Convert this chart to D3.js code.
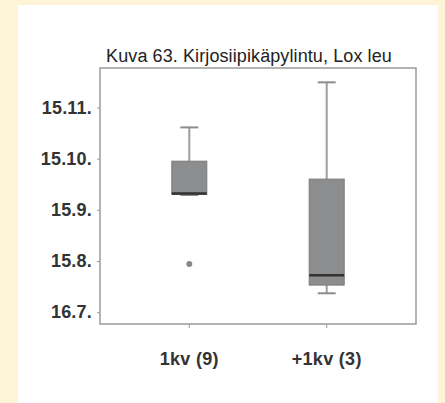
<!DOCTYPE html>
<html>
<head>
<meta charset="utf-8">
<script src="https://cdn.jsdelivr.net/npm/d3@7"></script>
<style>
  body { margin: 0; background: #fdf3d6; }
  svg { display: block; }
</style>
</head>
<body>
<div class="container"></div>
<script>
// tick labels as printed, bottom to top
const tickLabels = ['16.7.', '15.8.', '15.9.', '15.10.', '15.11.']
const tickPos = [0, 1, 2, 3, 4]

const groups = ['1kv (9)', '+1kv (3)']
const lowWhisker = [2.29, 0.37]
const q1 = [2.30, 0.53]
const median = [2.32, 0.72]
const q3 = [2.95, 2.60]
const highWhisker = [3.61, 4.49]
const outliers = [[0.94], []]

const W = 445, H = 403
const frame = { left: 100, right: 416, top: 68, bottom: 324 }

const svg = d3.select('.container').append('svg')
  .attr('width', W)
  .attr('height', H)

svg.append('rect')
  .attr('x', 18).attr('y', 5)
  .attr('width', 420).attr('height', H - 5)
  .attr('fill', '#fff')

const y = d3.scaleLinear()
  .domain([-0.23, 4.77])
  .range([frame.bottom, frame.top])

const x = d3.scaleBand()
  .domain(groups)
  .range([frame.left, frame.right])
  .paddingInner(0.1)
  .paddingOuter(0.2)

svg.append('text')
  .attr('x', 249).attr('y', 62)
  .attr('text-anchor', 'middle')
  .style('font-family', 'Liberation Sans, Arial, sans-serif')
  .style('font-size', '18px')
  .style('letter-spacing', '0.1px')
  .attr('fill', '#222')
  .text('Kuva 63. Kirjosiipikäpylintu, Lox leu')

// frame
svg.append('rect')
  .attr('x', frame.left).attr('y', frame.top)
  .attr('width', frame.right - frame.left)
  .attr('height', frame.bottom - frame.top)
  .attr('fill', 'none')
  .attr('stroke', '#9a9a9a')
  .attr('stroke-width', 1.5)

const labelFont = sel => sel
  .style('font-family', 'Liberation Sans, Arial, sans-serif')
  .style('font-size', '18px')
  .style('font-weight', 'bold')
  .style('letter-spacing', '0.2px')
  .attr('fill', '#333')

// y axis
const yAxis = svg.append('g')
  .attr('transform', `translate(${frame.left},0)`)
  .call(d3.axisLeft(y).tickValues(tickPos).tickFormat((d, i) => tickLabels[i]).tickSize(3).tickPadding(5))
yAxis.select('.domain').remove()
yAxis.selectAll('line').attr('stroke', '#999')
yAxis.selectAll('text').call(labelFont)

// x axis
const xAxis = svg.append('g')
  .attr('transform', `translate(0,${frame.bottom})`)
  .call(d3.axisBottom(x).tickSize(4).tickPadding(24))
xAxis.select('.domain').remove()
xAxis.selectAll('line').attr('stroke', '#999')
xAxis.selectAll('text').call(labelFont).style('letter-spacing', '0.3px')

const boxW = 35
const capW = 18

groups.forEach((g, i) => {
  const cx = x(g) + x.bandwidth() / 2
  const gg = svg.append('g')

  // whiskers
  gg.append('line')
    .attr('x1', cx).attr('x2', cx)
    .attr('y1', y(highWhisker[i])).attr('y2', y(q3[i]))
    .attr('stroke', '#9d9d9d').attr('stroke-width', 2)
  gg.append('line')
    .attr('x1', cx).attr('x2', cx)
    .attr('y1', y(lowWhisker[i])).attr('y2', y(q1[i]))
    .attr('stroke', '#9d9d9d').attr('stroke-width', 2)
  ;[highWhisker[i], lowWhisker[i]].forEach(v => {
    gg.append('line')
      .attr('x1', cx - capW / 2).attr('x2', cx + capW / 2)
      .attr('y1', y(v)).attr('y2', y(v))
      .attr('stroke', '#8d8d8d').attr('stroke-width', 2)
  })

  // box
  gg.append('rect')
    .attr('x', cx - boxW / 2)
    .attr('y', y(q3[i]))
    .attr('width', boxW)
    .attr('height', y(q1[i]) - y(q3[i]))
    .attr('fill', '#8c8d8e')
    .attr('stroke', '#7a7a7a')
    .attr('stroke-width', 1)

  // median
  gg.append('line')
    .attr('x1', cx - boxW / 2).attr('x2', cx + boxW / 2)
    .attr('y1', y(median[i])).attr('y2', y(median[i]))
    .attr('stroke', '#333').attr('stroke-width', 2.5)

  // outliers
  gg.selectAll('circle')
    .data(outliers[i])
    .enter()
    .append('circle')
    .attr('cx', cx)
    .attr('cy', d => y(d))
    .attr('r', 3)
    .attr('fill', '#888')
})
</script>
</body>
</html>
